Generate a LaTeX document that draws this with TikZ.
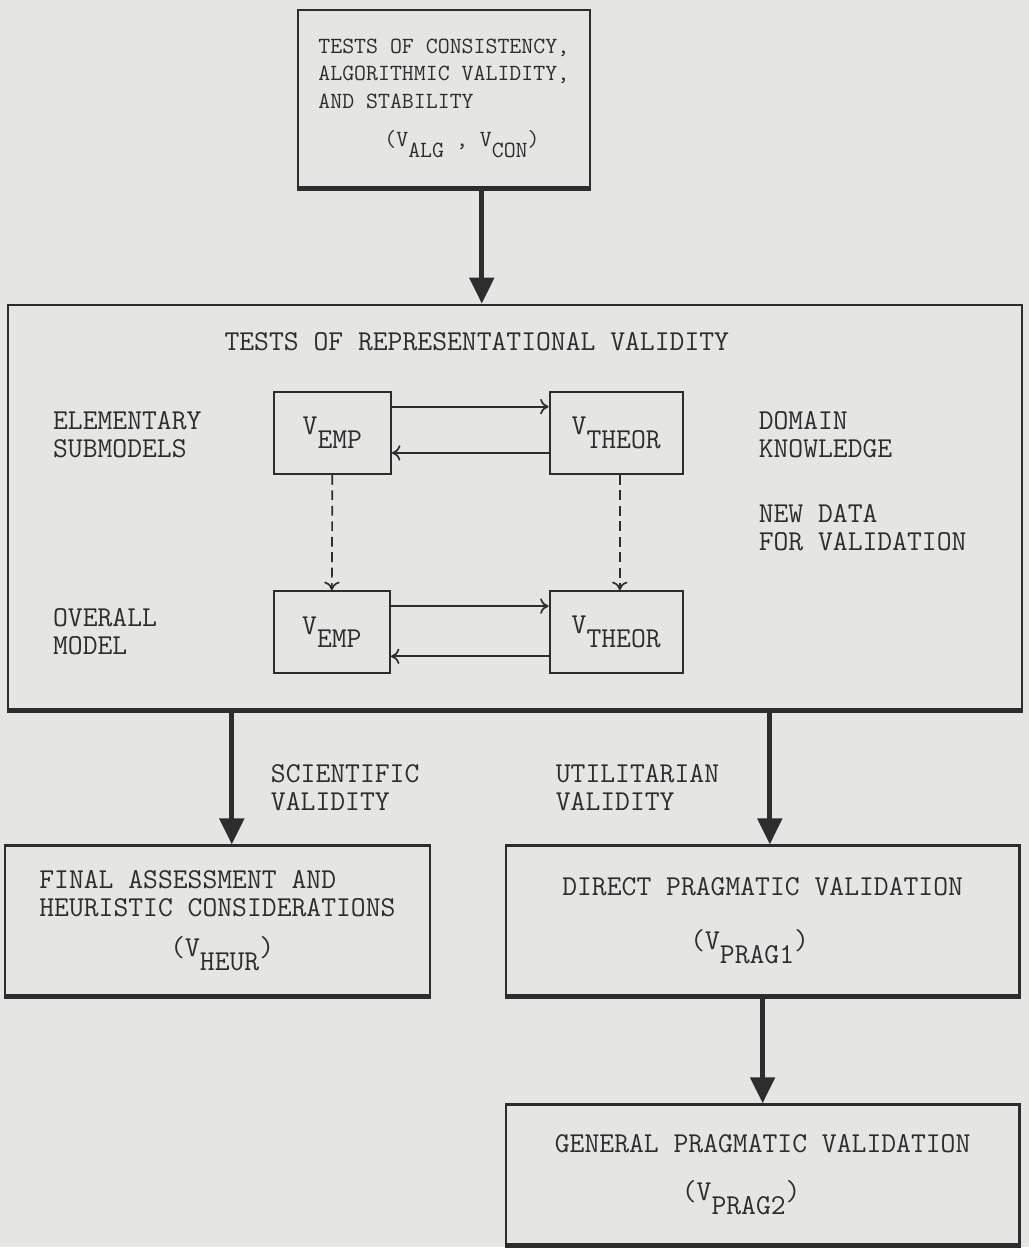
\documentclass[tikz,border=0pt]{standalone}
\usepackage{fontspec}
\usetikzlibrary{arrows.meta,positioning}

\definecolor{paper}{RGB}{229,229,227}
\definecolor{ink}{RGB}{45,45,45}

% V with its index set low, typewriter fashion
\newcommand{\vsub}[1]{V\raisebox{-0.48em}{#1}}

\begin{document}
\begin{tikzpicture}[x=0.025cm, y=-0.025cm, ink, line width=1.6pt,
    font=\ttfamily\fontsize{20.5}{19.8}\selectfont,
    block/.style={draw, rectangle, inner sep=0pt, align=left},
    small block/.style={draw, rectangle, inner sep=0pt, minimum height=2.05cm},
    side text/.style={align=left, anchor=west, inner sep=0pt},
    thick arrow/.style={line width=3.5pt, -{Triangle[width=0.6cm,length=0.65cm]}},
    thin arrow/.style={line width=1.2pt, -{To[length=6pt,width=11pt]}}]

    \fill[paper] (0,0) rectangle (1029,1248);

    % first stage
    \node[block, minimum width=7.3cm, minimum height=4.425cm,
          font=\ttfamily\fontsize{16.5}{19.5}\selectfont] (top) at (444,98.5)
        {TESTS OF CONSISTENCY,\\ALGORITHMIC VALIDITY,\\AND STABILITY\\[8pt]%
         \hspace*{1.65cm}(\vsub{ALG} , \vsub{CON})};

    % representational validity
    \node[block, minimum width=25.35cm, minimum height=10.125cm] (rep) at (515,507.5) {};
    \node[side text, anchor=center] (reptitle) at (477,342) {TESTS OF REPRESENTATIONAL VALIDITY};

    \node[small block, minimum width=2.925cm] (empA) at (332.5,433) {\vsub{EMP}};
    \node[small block, minimum width=3.325cm] (theorA) at (616.5,433) {\vsub{THEOR}};
    \node[small block, minimum width=2.9cm] (empB) at (332,632.5) {\vsub{EMP}};
    \node[small block, minimum width=3.325cm] (theorB) at (616.5,632.5) {\vsub{THEOR}};

    \node[side text] (elem) at (52,435) {ELEMENTARY\\SUBMODELS};
    \node[side text] (overall) at (52,632) {OVERALL\\MODEL};
    \node[side text] (domain) at (758,435) {DOMAIN\\KNOWLEDGE};
    \node[side text] (newdata) at (758,528) {NEW DATA\\FOR VALIDATION};

    \draw[thin arrow] ([yshift=-0.4cm]empA.north east) -- ([yshift=-0.4cm]empA.north east -| theorA.west);
    \draw[thin arrow] ([yshift=0.55cm]theorA.south west) -- ([yshift=0.55cm]theorA.south west -| empA.east);
    \draw[thin arrow] ([yshift=-0.4cm]empB.north east) -- ([yshift=-0.4cm]empB.north east -| theorB.west);
    \draw[thin arrow] ([yshift=0.45cm]theorB.south west) -- ([yshift=0.45cm]theorB.south west -| empB.east);
    \draw[thin arrow, dash pattern=on 7pt off 4pt] (empA.south) -- (empB.north);
    \draw[thin arrow, dash pattern=on 7pt off 4pt] ([xshift=0.09cm]theorA.south) -- ([xshift=0.09cm]theorB.north);

    % outcomes
    \node[block, minimum width=10.625cm, minimum height=3.75cm] (heur) at (217.5,921)
        {FINAL ASSESSMENT AND\\HEURISTIC CONSIDERATIONS\\[9pt]%
         \hspace*{3.275cm}(\vsub{HEUR})};
    \node[block, minimum width=12.85cm, minimum height=3.75cm] (prag1) at (763,921)
        {DIRECT PRAGMATIC VALIDATION\\[19pt]%
         \hspace*{3.2cm}(\vsub{PRAG1})};
    \node[block, minimum width=12.85cm, minimum height=3.5cm] (prag2) at (763,1175)
        {GENERAL PRAGMATIC VALIDATION\\[14.5pt]%
         \hspace*{3.175cm}(\vsub{PRAG2})};

    \node[side text] (sci) at (270,788) {SCIENTIFIC\\VALIDITY};
    \node[side text] (util) at (555,788) {UTILITARIAN\\VALIDITY};

    \draw[thick arrow] ([xshift=0.95cm]top.south) -- ([xshift=0.95cm]top.south |- rep.north);
    \draw[thick arrow] ([xshift=0.36cm]heur.north |- rep.south) -- ([xshift=0.36cm]heur.north);
    \draw[thick arrow] ([xshift=0.18cm]prag1.north |- rep.south) -- ([xshift=0.18cm]prag1.north);
    \draw[thick arrow] (prag1) -- (prag2);

    % heavier lower edges
    \foreach \b in {top,rep,heur,prag1,prag2}
        \draw[line width=3.5pt] (\b.south west) -- (\b.south east);
\end{tikzpicture}
\end{document}
